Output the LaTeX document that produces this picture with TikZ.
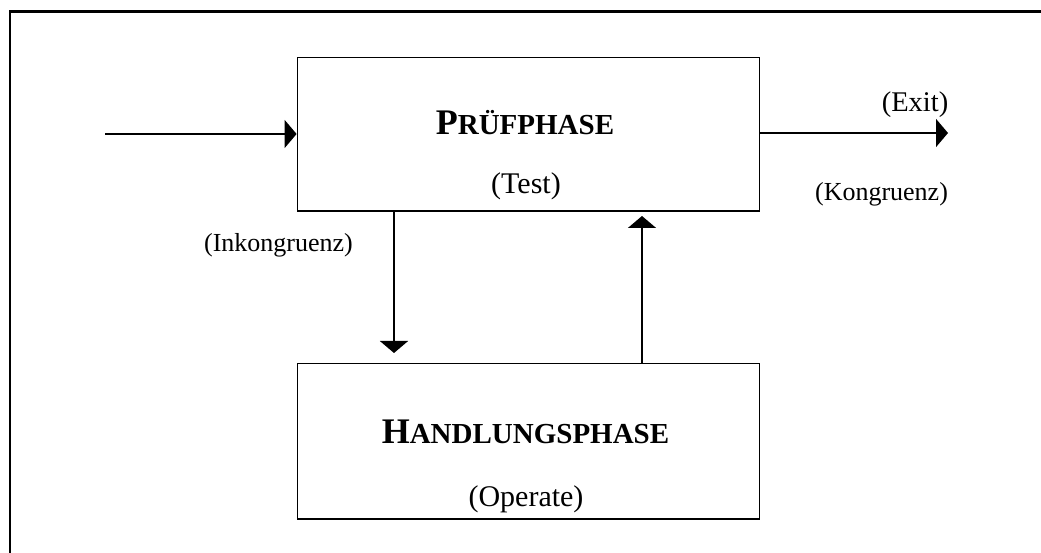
\documentclass[tikz,border=0pt]{standalone}
\usepackage{fontspec}
\setmainfont{Liberation Serif}
\usetikzlibrary{arrows.meta}

\tikzset{
  phasebox/.style={draw, line width=1.8bp, minimum width=462bp, inner sep=0pt},
  arr/.style={line width=1.5bp, -{Triangle[length=12bp,width=28bp]}},
  frame/.style={line width=2.2bp},
  title/.style={anchor=base, inner sep=0pt, font=\fontsize{36bp}{40bp}\selectfont\bfseries},
  sub/.style={anchor=base, inner sep=0pt, font=\fontsize{30bp}{34bp}\selectfont},
  note/.style={anchor=base, inner sep=0pt, font=\fontsize{26bp}{30bp}\selectfont},
}
% bold small caps imitation: full-size initial, reduced capitals after it
\newcommand{\capsmall}[2]{#1{\fontsize{29bp}{34bp}\selectfont #2}}

\begin{document}
\begin{tikzpicture}[x=1bp, y=-1bp]
  \useasboundingbox (0,0) rectangle (1041,553);

  % open frame: top and left edges only
  \coordinate (fTL) at (10,11.5);
  \coordinate (fTR) at (1045,11.5);
  \coordinate (fBL) at (10,557);
  \draw[frame] (fTR) -- (fTL) -- (fBL);

  % the two phases
  \node[phasebox, minimum height=153.5bp] (test) at (528.5,134.25) {};
  \node[phasebox, minimum height=155.5bp] (op)   at (528.5,441.25) {};

  \node[title] (testT) at (525,135) {\capsmall{P}{RÜFPHASE}};
  \node[sub]   (testS) at (526,193.5) {(Test)};
  \node[title] (opT)   at (525.5,443) {\capsmall{H}{ANDLUNGSPHASE}};
  \node[sub]   (opS)   at (526,506) {(Operate)};

  % connector end points
  \coordinate (in)   at (105,134);
  \coordinate (exit) at (948,133);
  \coordinate (dn)   at (394,353);
  \coordinate (up)   at (642,216);

  \draw[arr] (in) -- (test.west |- in);
  \draw[arr] (test.east |- exit) -- (exit);
  \draw[arr] (test.south -| dn) -- (dn);
  \draw[arr] (op.north -| up) -- (up);

  % labels
  \node[sub, font=\fontsize{28.5bp}{32bp}\selectfont] (exitL) at (915,112) {(Exit)};
  \node[note] (kongL)   at (881.5,201) {(Kongruenz)};
  \node[note] (inkongL) at (278.5,252) {(Inkongruenz)};
\end{tikzpicture}
\end{document}
